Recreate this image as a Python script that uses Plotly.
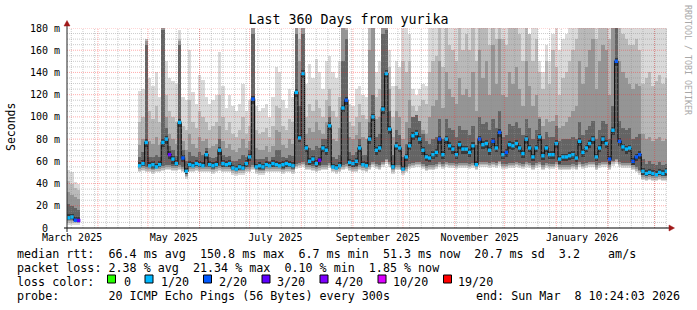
import plotly.graph_objects as go
import pandas as pd

# ---------------- data ----------------
range_start = "2025-03-13 10:24:03"
range_end = "2026-03-08 10:24:03"
bin_days = 2

# first short segment (March 2025)
early_start = "2025-03-13 10:24:03"
early_median = [9.2, 9.9, 7.0, 6.7]
early_loss = [1, 1, 2, 3]
early_lo = [3, 3, 3, 3]
early_q2 = [22, 20, 18, 16]
early_q3 = [32, 30, 28, 26]
early_q4 = [42, 40, 36, 34]
early_hi = [52, 50, 41, 40]

# main segment (late April 2025 -> March 2026), 2-day bins
main_start = "2025-04-25 00:00:00"
main_median = [
    56, 58, 77, 56, 57, 55, 57, 77, 80, 66,
    62, 58, 95, 63, 51, 57, 56, 58, 57, 56,
    66, 57, 56, 57, 70, 58, 57, 58, 54, 53,
    55, 54, 58, 64, 116, 55, 56, 55, 57, 56,
    58, 57, 56, 57, 58, 57, 56, 122, 81, 139,
    72, 60, 62, 58, 61, 72, 70, 92, 55, 54,
    56, 108, 115, 59, 58, 60, 72, 57, 56, 80,
    100, 70, 72, 107, 139, 89, 55, 74, 72, 53,
    64, 74, 83, 85, 80, 70, 64, 63, 66, 68,
    80, 66, 80, 74, 71, 66, 75, 71, 71, 68,
    74, 57, 80, 75, 76, 70, 78, 72, 86, 66,
    68, 75, 74, 76, 72, 67, 80, 72, 64, 72,
    82, 65, 72, 66, 66, 76, 62, 64, 64, 65,
    66, 63, 78, 68, 72, 76, 80, 64, 72, 80,
    76, 62, 88, 150, 78, 73, 71, 72, 60, 64,
    66, 51, 49, 50, 49, 48, 50, 49, 51,
]
main_loss = [
    1, 1, 1, 1, 1, 1, 1, 1, 1, 3,
    1, 1, 1, 2, 1, 1, 1, 1, 1, 1,
    1, 1, 1, 1, 1, 1, 1, 1, 1, 1,
    1, 1, 1, 1, 2, 1, 1, 1, 1, 1,
    1, 1, 1, 1, 1, 1, 1, 1, 1, 1,
    1, 1, 1, 1, 3, 1, 1, 1, 1, 1,
    1, 1, 2, 1, 1, 1, 1, 1, 1, 1,
    1, 1, 1, 1, 1, 1, 1, 1, 1, 1,
    1, 1, 1, 1, 1, 1, 1, 1, 1, 1,
    2, 1, 1, 1, 1, 1, 1, 1, 1, 1,
    1, 1, 2, 1, 1, 1, 2, 1, 2, 1,
    2, 1, 1, 1, 1, 1, 1, 1, 1, 1,
    1, 1, 1, 1, 1, 1, 1, 1, 1, 1,
    1, 1, 1, 1, 1, 1, 1, 1, 1, 1,
    1, 2, 1, 2, 2, 1, 1, 1, 2, 2,
    2, 1, 1, 1, 1, 1, 1, 1, 1,
]
main_lo = [
    50, 51, 50, 50, 49, 50, 50, 51, 52, 52,
    51, 51, 52, 50, 44, 50, 50, 51, 50, 50,
    50, 50, 49, 50, 51, 50, 50, 50, 48, 47,
    48, 48, 50, 50, 52, 49, 48, 48, 50, 50,
    50, 50, 50, 49, 50, 50, 49, 53, 54, 55,
    52, 52, 51, 50, 51, 52, 52, 54, 50, 49,
    50, 52, 53, 51, 50, 50, 52, 51, 50, 52,
    55, 53, 52, 55, 58, 55, 49, 52, 52, 48,
    50, 53, 54, 55, 55, 53, 51, 52, 52, 53,
    55, 53, 55, 54, 54, 53, 54, 54, 54, 53,
    54, 52, 55, 55, 55, 54, 55, 54, 56, 53,
    53, 54, 54, 55, 54, 53, 55, 54, 52, 54,
    55, 52, 54, 53, 53, 55, 52, 52, 52, 52,
    53, 52, 55, 53, 54, 55, 55, 52, 54, 55,
    55, 52, 56, 58, 55, 54, 54, 54, 52, 50,
    48, 43, 42, 43, 42, 42, 43, 42, 42,
]
main_q2 = [
    64, 68, 165, 64, 64, 66, 64, 178, 90, 74,
    70, 65, 165, 70, 60, 68, 65, 64, 68, 66,
    72, 64, 63, 64, 80, 66, 64, 65, 60, 60,
    62, 66, 64, 70, 175, 62, 62, 62, 64, 60,
    64, 70, 70, 64, 63, 66, 65, 175, 110, 175,
    75, 72, 70, 74, 72, 80, 80, 100, 64, 62,
    66, 150, 170, 68, 66, 68, 80, 66, 66, 95,
    120, 82, 85, 175, 178, 105, 66, 88, 84, 64,
    76, 90, 100, 102, 96, 85, 78, 76, 80, 82,
    98, 80, 98, 90, 88, 82, 92, 88, 88, 84,
    92, 75, 100, 94, 95, 88, 98, 90, 105, 82,
    84, 94, 92, 95, 90, 84, 98, 90, 80, 88,
    98, 80, 86, 82, 82, 92, 78, 80, 80, 80,
    82, 80, 95, 84, 88, 92, 96, 80, 88, 96,
    94, 80, 110, 180, 96, 90, 88, 90, 80, 82,
    85, 62, 58, 60, 58, 57, 59, 57, 58,
]
main_q3 = [
    75, 80, 168, 78, 76, 82, 75, 180, 100, 85,
    80, 76, 168, 78, 70, 85, 76, 72, 82, 78,
    80, 72, 74, 76, 92, 78, 72, 76, 70, 68,
    72, 80, 72, 78, 180, 72, 70, 70, 74, 68,
    74, 88, 86, 75, 72, 80, 76, 180, 150, 180,
    85, 90, 86, 95, 88, 85, 95, 110, 80, 78,
    90, 180, 178, 82, 80, 84, 95, 82, 80, 160,
    180, 98, 100, 180, 180, 125, 82, 105, 100, 80,
    95, 115, 95, 92, 90, 88, 85, 100, 110, 115,
    150, 108, 140, 125, 118, 112, 135, 120, 125, 118,
    140, 105, 160, 135, 150, 120, 165, 130, 170, 120,
    118, 140, 130, 145, 125, 110, 150, 128, 110, 120,
    100, 92, 98, 95, 96, 102, 90, 92, 95, 100,
    105, 110, 150, 130, 145, 160, 170, 125, 150, 165,
    160, 120, 180, 180, 150, 140, 135, 130, 125, 130,
    128, 85, 80, 82, 78, 80, 82, 78, 80,
]
main_q4 = [
    95, 100, 170, 105, 98, 110, 95, 180, 120, 105,
    100, 95, 170, 92, 88, 115, 95, 90, 105, 100,
    95, 88, 92, 95, 120, 100, 88, 95, 85, 82,
    88, 100, 85, 92, 180, 88, 85, 86, 90, 82,
    92, 110, 108, 92, 88, 98, 95, 180, 170, 180,
    100, 112, 105, 115, 108, 100, 115, 125, 105, 100,
    118, 180, 180, 95, 92, 100, 112, 102, 98, 180,
    180, 118, 125, 180, 180, 145, 100, 128, 125, 150,
    140, 150, 110, 105, 110, 115, 112, 140, 150, 155,
    180, 145, 180, 165, 160, 150, 180, 160, 175, 160,
    180, 150, 180, 180, 180, 165, 180, 170, 180, 170,
    165, 180, 180, 180, 175, 150, 180, 175, 150, 170,
    140, 125, 150, 130, 160, 145, 120, 135, 140, 150,
    160, 170, 180, 180, 180, 180, 180, 170, 180, 180,
    180, 170, 180, 180, 180, 175, 170, 165, 165, 170,
    160, 130, 135, 140, 128, 132, 138, 130, 135,
]
main_hi = [
    123, 125, 170, 135, 128, 140, 118, 180, 150, 135,
    132, 130, 178, 118, 115, 160, 122, 112, 138, 133,
    118, 112, 115, 120, 158, 128, 108, 120, 110, 105,
    112, 130, 105, 115, 180, 110, 105, 108, 112, 100,
    118, 145, 140, 115, 108, 125, 118, 180, 180, 180,
    130, 148, 135, 152, 140, 125, 150, 155, 140, 135,
    150, 180, 180, 112, 110, 125, 128, 120, 118, 180,
    180, 140, 150, 180, 180, 160, 128, 150, 145, 180,
    180, 175, 125, 120, 125, 130, 128, 180, 180, 180,
    180, 180, 180, 180, 180, 180, 180, 180, 180, 180,
    180, 180, 180, 180, 180, 180, 180, 180, 180, 180,
    180, 180, 180, 180, 180, 180, 180, 175, 180, 180,
    150, 140, 165, 150, 175, 180, 160, 170, 175, 180,
    180, 180, 180, 180, 180, 180, 180, 180, 180, 180,
    180, 180, 180, 180, 180, 180, 180, 180, 180, 180,
    180, 180, 180, 180, 180, 180, 180, 180, 180,
]

x_label_months = ["2025-03", "2025-05", "2025-07", "2025-09", "2025-11", "2026-01"]
x_labels = ["March 2025", "May 2025", "July 2025", "September 2025", "November 2025", "January 2026"]
y_ticks = [0, 20, 40, 60, 80, 100, 120, 140, 160, 180]
y_tick_labels = ["0\u00a0\u00a0", "20 m", "40 m", "60 m", "80 m", "100 m", "120 m", "140 m", "160 m", "180 m"]

loss_labels = ["0", "1/20", "2/20", "3/20", "4/20", "10/20", "19/20"]
loss_colors = ["#26ff00", "#00b8ff", "#0059ff", "#5e00ff", "#7e00ff", "#dd00ff", "#ff0000"]

title_text = "Last 360 Days from yurika"
stats_rtt = "median rtt:  66.4 ms avg  150.8 ms max  6.7 ms min  51.3 ms now  20.7 ms sd  3.2    am/s"
stats_loss = "packet loss: 2.38 % avg  21.34 % max  0.10 % min  1.85 % now"
loss_caption = "loss color:"
probe_text = "probe:       20 ICMP Echo Pings (56 Bytes) every 300s"
end_text = "end: Sun Mar  8 10:24:03 2026"
side_text = "RRDTOOL / TOBI OETIKER"
y_title = "Seconds"

# ---------------- geometry helpers (pixel -> paper) ----------------
W, H = 697, 310
L, R, T, B = 67, 30, 28, 82
PW, PH = W - L - R, H - T - B


def px(x):
    return (x - L) / PW


def py(y):
    return (T + PH - y) / PH


def nb(s):
    return s.replace(" ", "\u00a0")


def centers(start, n):
    t0 = pd.Timestamp(start) + pd.Timedelta(days=bin_days / 2)
    return [(t0 + pd.Timedelta(days=bin_days * i)).strftime("%Y-%m-%d %H:%M:%S") for i in range(n)]


x_early = centers(early_start, len(early_median))
x_main = centers(main_start, len(main_median))
x_all = x_early + x_main
med = early_median + main_median
lo = early_lo + main_lo
q2 = early_q2 + main_q2
q3 = early_q3 + main_q3
q4 = early_q4 + main_q4
hi = early_hi + main_hi
loss = early_loss + main_loss

fig = go.Figure()
bar_w = bin_days * 86400000

tiers = [
    (hi, 0.0, "#dadada"),
    (q4, 1.5, "#b9b9b9"),
    (q3, 3.0, "#959595"),
    (q2, 4.5, "#646464"),
]
for top, off, col in tiers:
    base = [l + off for l in lo]
    fig.add_trace(go.Bar(
        x=x_all, y=[t - b for t, b in zip(top, base)], base=base, width=bar_w,
        marker=dict(color=col, line=dict(width=0)), hoverinfo="skip", showlegend=False))

core_base = [max(l + 5, m - 4) for l, m in zip(lo, med)]
core_top = [m + 3 for m in med]
fig.add_trace(go.Bar(
    x=x_all, y=[t - b for t, b in zip(core_top, core_base)], base=core_base, width=bar_w,
    marker=dict(color="#3a3a3a", line=dict(width=0)), hoverinfo="skip", showlegend=False))

# median connector line
fig.add_trace(go.Scatter(
    x=x_early + [None] + x_main, y=early_median + [None] + main_median,
    mode="lines", line=dict(color="#111111", width=1.2, shape="hvh"),
    hoverinfo="skip", showlegend=False, connectgaps=False))
# median coloured by loss
fig.add_trace(go.Scatter(
    x=x_all, y=med, mode="markers",
    marker=dict(symbol="square", size=3.4, color=[loss_colors[v] for v in loss], line=dict(width=0)),
    hoverinfo="skip", showlegend=False))

# ---------------- grid (drawn above, semi transparent, like rrdtool) ----------------
shapes = []
minor_col = "rgba(140,140,140,0.45)"
major_col = "rgba(255,40,40,0.38)"
for v in range(5, 180, 5):
    if v % 20 == 0:
        continue
    shapes.append(dict(type="line", xref="paper", yref="y", x0=0, x1=1, y0=v, y1=v, layer="above",
                       line=dict(color=minor_col, width=1, dash="1px,1px")))
weeks = pd.date_range("2025-03-16", range_end, freq="7D")
for w in weeks:
    s = w.strftime("%Y-%m-%d")
    shapes.append(dict(type="line", xref="x", yref="paper", x0=s, x1=s, y0=0, y1=1, layer="above",
                       line=dict(color=minor_col, width=1, dash="1px,1px")))
for v in range(20, 181, 20):
    shapes.append(dict(type="line", xref="paper", yref="y", x0=0, x1=1, y0=v, y1=v, layer="above",
                       line=dict(color=major_col, width=1, dash="1px,1px")))
months = pd.date_range("2025-04-01", range_end, freq="MS")
for m in months:
    s = m.strftime("%Y-%m-%d")
    shapes.append(dict(type="line", xref="x", yref="paper", x0=s, x1=s, y0=0, y1=1, layer="above",
                       line=dict(color=major_col, width=1, dash="1px,1px")))

# axes + arrows
shapes.append(dict(type="line", xref="paper", yref="paper", x0=px(64), x1=px(670), y0=0, y1=0,
                   layer="above", line=dict(color="#000000", width=1)))
shapes.append(dict(type="line", xref="paper", yref="paper", x0=0, x1=0, y0=py(232), y1=py(24),
                   layer="above", line=dict(color="#222222", width=1)))
shapes.append(dict(type="path", xref="paper", yref="paper", layer="above",
                   path=f"M {px(669)},{py(225)} L {px(674.5)},{py(228)} L {px(669)},{py(231)} Z",
                   fillcolor="#a01818", line=dict(color="#a01818", width=0.5)))
shapes.append(dict(type="path", xref="paper", yref="paper", layer="above",
                   path=f"M {px(64)},{py(26)} L {px(67)},{py(20.5)} L {px(70)},{py(26)} Z",
                   fillcolor="#a01818", line=dict(color="#a01818", width=0.5)))

# legend colour boxes
box_left = [107.5, 145, 203.5, 262, 320, 378, 443.5]
label_left = [123, 160, 218, 276, 334, 392, 457]
for bx, col in zip(box_left, loss_colors):
    shapes.append(dict(type="rect", xref="paper", yref="paper", x0=px(bx), x1=px(bx + 8),
                       y0=py(283), y1=py(275), fillcolor=col, line=dict(color="#000000", width=1)))

# ---------------- annotations ----------------
mono = "DejaVu Sans Mono"
ann = []


def text(x, y, s, size=11.7, anchor="left", color="#000000", angle=0):
    ann.append(dict(x=px(x), y=py(y), xref="paper", yref="paper", text=nb(s), showarrow=False,
                    xanchor=anchor, yanchor="middle", textangle=angle, borderpad=0,
                    font=dict(family=mono, size=size, color=color)))


text(16, 253.5, stats_rtt)
text(16, 268, stats_loss)
text(16, 281.5, loss_caption)
for lx, lab in zip(label_left, loss_labels):
    text(lx, 281.5, lab)
text(16, 295.5, probe_text)
text(681, 295.5, end_text, anchor="right")
text(11, 127, y_title, size=11.5, anchor="center", angle=-90)
text(688, 60, side_text, size=8.3, anchor="center", color="#a8a8a8", angle=90)

label_pos = []
for mth in x_label_months:
    s = pd.Timestamp(mth + "-01")
    e = s + pd.offsets.MonthBegin(1)
    label_pos.append((s + (e - s) / 2).strftime("%Y-%m-%d %H:%M:%S"))

fig.update_layout(
    width=W, height=H,
    margin=dict(l=L, r=R, t=T, b=B, pad=0, autoexpand=False),
    paper_bgcolor="white", plot_bgcolor="white",
    barmode="overlay", bargap=0, showlegend=False,
    font=dict(family=mono, color="#000000"),
    title=dict(text=title_text, x=0.5, xref="container", xanchor="center",
               y=1 - 19 / H, yref="container", yanchor="middle",
               font=dict(family=mono, size=13.3, color="#000000")),
    xaxis=dict(type="date", range=[range_start, range_end], tickvals=label_pos, ticktext=x_labels,
               showgrid=False, zeroline=False, showline=False, ticks="", ticklabelstandoff=2,
               tickfont=dict(family=mono, size=10), fixedrange=True),
    yaxis=dict(range=[0, 180], tickvals=y_ticks, ticktext=y_tick_labels, showgrid=False,
               zeroline=False, showline=False, ticks="", ticklabelstandoff=6,
               tickfont=dict(family=mono, size=10), fixedrange=True),
    shapes=shapes, annotations=ann,
)

fig.write_html("out.html", config={"displayModeBar": False})
